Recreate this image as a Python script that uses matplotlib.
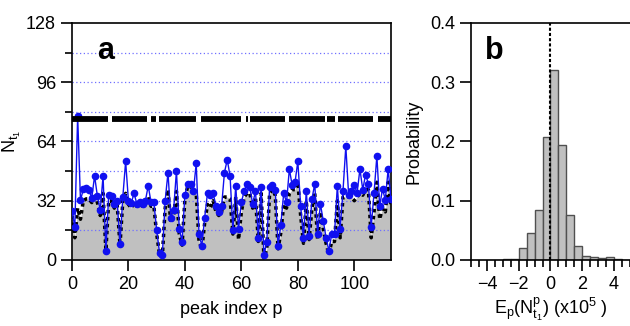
import numpy as np
import matplotlib.pyplot as plt
from matplotlib.ticker import MultipleLocator

plt.rcParams['font.family'] = ['Liberation Sans', 'DejaVu Sans']
plt.rcParams['mathtext.fontset'] = 'custom'
plt.rcParams['mathtext.rm'] = 'Liberation Sans'
plt.rcParams['mathtext.it'] = 'Liberation Sans'

# panel a: N_t1 per peak
n_blue = [26.3, 17.8, 77.8, 32.2, 38.2, 39.0, 38.0, 33.5, 45.4, 34.4,
          26.8, 45.4, 4.9, 35.3, 34.4, 30.4, 31.9, 8.6, 34.0, 53.3,
          31.7, 31.0, 36.0, 30.0, 31.1, 30.4, 32.0, 40.1, 31.1, 31.1,
          16.0, 4.0, 2.5, 32.0, 47.2, 22.9, 27.0, 48.2, 16.9, 9.9,
          35.3, 41.0, 41.0, 37.0, 52.2, 13.9, 7.6, 22.9, 36.2, 35.0,
          36.0, 29.2, 26.1, 29.0, 47.2, 54.2, 45.2, 16.0, 40.1, 16.9,
          31.1, 37.3, 41.0, 39.2, 30.2, 37.3, 11.9, 39.2, 2.7, 9.7,
          39.2, 40.3, 38.0, 7.7, 19.1, 36.2, 31.1, 49.1, 40.3, 41.9,
          53.3, 29.3, 11.9, 37.4, 13.1, 32.9, 41.2, 13.9, 30.4, 21.1,
          12.1, 5.0, 13.9, 14.2, 40.1, 16.9, 37.3, 61.4, 35.1, 37.3,
          40.3, 36.2, 49.1, 38.0, 46.1, 41.2, 18.0, 36.2, 56.2, 29.2,
          38.3, 32.6, 49.1, 32.9]
n_dotted = [24, 12, 28, 22, 32, 33, 33, 31, 36, 31,
            24, 36, 5, 32, 32, 28, 30, 8, 32, 36,
            30, 28, 31, 29, 30, 29, 30, 34, 29, 29,
            14, 3, 2, 28, 38, 20, 24, 37, 14, 8,
            33, 40, 40, 36, 36, 10, 6, 20, 30, 28,
            32, 26, 24, 26, 34, 34, 33, 14, 34, 11,
            26, 34, 36, 36, 28, 34, 10, 36, 1, 6,
            36, 38, 35, 6, 15, 30, 28, 36, 38, 38,
            42, 24, 9, 32, 11, 28, 36, 11, 26, 17,
            9, 3, 10, 10, 32, 12, 34, 34, 34, 34,
            32, 34, 36, 35, 38, 38, 12, 26, 42, 22,
            28, 26, 42, 30]
peak = np.arange(len(n_blue))
threshold = 76
threshold_segments = [(0, 12.8), (14.3, 26.7), (27.9, 29.9), (30.9, 44.1),
                      (45.6, 60.0), (61.5, 62.2), (63.0, 75.4), (77.0, 89.6),
                      (90.5, 93.1), (94.3, 106.7), (108.3, 113.0)]

# panel b: histogram
bin_edges = np.arange(-3.0, 4.51, 0.5)
probs = [0.001, 0.002, 0.021, 0.046, 0.085, 0.207, 0.320, 0.194,
         0.076, 0.024, 0.006, 0.0045, 0.003, 0.0045, 0.001]

fig = plt.figure(figsize=(6.3, 3.26), dpi=100)
ax = fig.add_axes([0.1143, 0.2025, 0.5063, 0.727])
bx = fig.add_axes([0.7476, 0.2025, 0.2524, 0.727])

fs = 13
ax.fill_between(peak, n_dotted, 0, color='#c0c0c0', linewidth=0, zorder=1)
for y in range(16, 128, 16):
    ax.axhline(y, color='#7070ff', linestyle=(0, (1, 2)), linewidth=0.9, zorder=1.5)
ax.plot(peak, n_dotted, color='black', linestyle=(0, (1, 1)), linewidth=2.5, zorder=2)
ax.plot(peak, n_blue, color='#1010f0', linewidth=1.0, marker='o', markersize=4.5, zorder=3)
for x0, x1 in threshold_segments:
    ax.plot([x0, x1], [threshold, threshold], color='black', linewidth=4.2,
            solid_capstyle='butt', zorder=4)
ax.set_xlim(0, 113)
ax.set_ylim(0, 128)
ax.yaxis.set_major_locator(MultipleLocator(32))
ax.yaxis.set_minor_locator(MultipleLocator(16))
ax.xaxis.set_major_locator(MultipleLocator(20))
ax.tick_params(axis='both', which='major', direction='out', length=8, width=1.2, labelsize=fs)
ax.tick_params(axis='y', which='minor', direction='out', length=5, width=1.2)
ax.set_xlabel('peak index p', fontsize=fs, labelpad=6)
ax.set_ylabel(r'$\mathrm{N_{t_1}}$', fontsize=fs)
ax.yaxis.set_label_coords(-0.155, 0.5)
for s in ax.spines.values():
    s.set_linewidth(1.2)
ax.text(0.08, 0.88, 'a', transform=ax.transAxes, fontsize=22, fontweight='bold', va='center')

bx.bar(bin_edges[:-1], probs, width=0.5, align='edge', color='#c0c0c0',
       edgecolor='#505050', linewidth=1.0, zorder=2)
bx.plot([0, 0], [0, 0.4], color='black', linestyle=(0, (1.5, 1)), linewidth=1.5, zorder=3)
bx.set_xlim(-5, 5)
bx.set_ylim(0, 0.4)
bx.xaxis.set_major_locator(MultipleLocator(2))
bx.xaxis.set_minor_locator(MultipleLocator(0.5))
bx.yaxis.set_major_locator(MultipleLocator(0.1))
bx.yaxis.set_major_formatter(plt.FormatStrFormatter('%.1f'))
bx.tick_params(axis='both', which='major', direction='out', length=8, width=1.2, labelsize=fs)
bx.tick_params(axis='x', which='minor', direction='out', length=5, width=1.2)
bx.spines['right'].set_visible(False)
for s in bx.spines.values():
    s.set_linewidth(1.2)
bx.set_ylabel('Probability', fontsize=fs, labelpad=5)
bx.set_xlabel(r'$\mathrm{E_p(N^p_{t_1})}$ (x10$^5$ )', fontsize=fs, labelpad=2)
bx.text(0.09, 0.88, 'b', transform=bx.transAxes, fontsize=22, fontweight='bold', va='center')

fig.savefig('out.png', dpi=100)
